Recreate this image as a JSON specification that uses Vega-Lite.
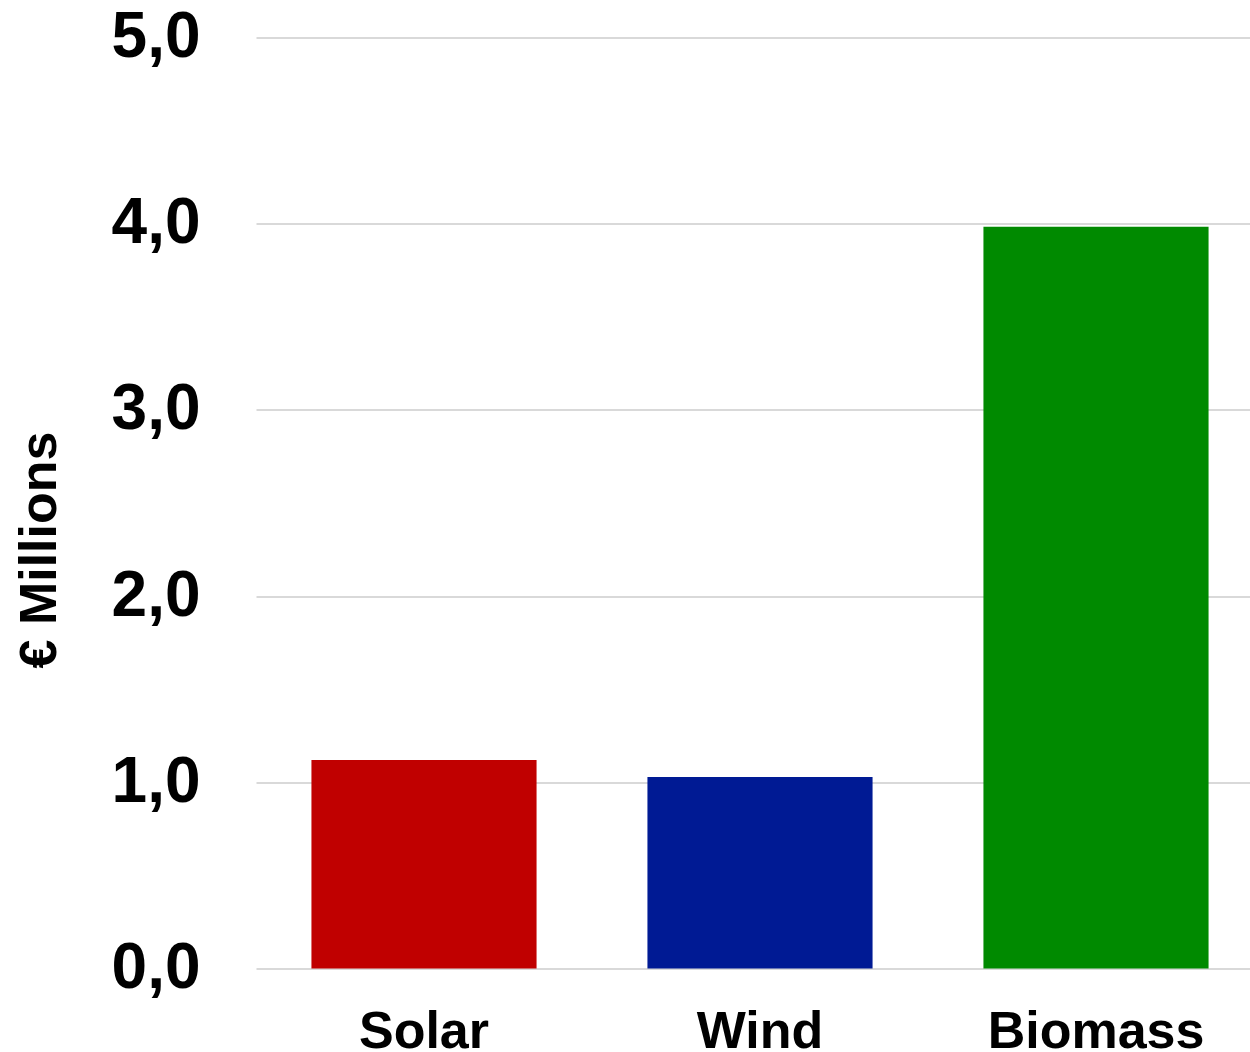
{
  "$schema": "https://vega.github.io/schema/vega-lite/v6.json",
  "autosize": "none",
  "padding": {"left": 256, "top": 37.5, "right": 0, "bottom": 83.5},
  "width": 1008,
  "height": 931,
  "background": "white",
  "config": {"view": {"stroke": null}, "font": "Liberation Sans"},
  "data": {"values": [
    {"source": "Solar", "value": 1.12, "color": "#C00000"},
    {"source": "Wind", "value": 1.028, "color": "#001A94"},
    {"source": "Biomass", "value": 3.984, "color": "#008A00"}
  ]},
  "mark": {"type": "bar"},
  "encoding": {
    "x": {
      "field": "source", "type": "nominal", "sort": null,
      "scale": {"paddingInner": 0.33, "paddingOuter": 0.165},
      "axis": {
        "title": null, "labelAngle": 0, "domain": false, "ticks": false,
        "labelFont": "Liberation Sans", "labelFontWeight": "bold", "labelFontSize": 52,
        "labelColor": "#000000", "labelPadding": 38, "labelBaseline": "top", "labelLimit": 500
      }
    },
    "y": {
      "field": "value", "type": "quantitative",
      "scale": {"domain": [0, 5], "nice": false},
      "axis": {
        "title": "€ Millions", "values": [0, 1, 2, 3, 4, 5], "format": ".1f",
        "labelExpr": "replace(datum.label, '.', ',')",
        "domain": false, "ticks": false, "grid": true, "gridColor": "#d9d9d9", "gridWidth": 2,
        "labelFont": "Liberation Sans", "labelFontWeight": "bold", "labelFontSize": 64,
        "labelColor": "#000000", "labelPadding": 56, "labelBaseline": "middle",
        "titleFont": "Liberation Sans", "titleFontWeight": "bold", "titleFontSize": 52,
        "titleColor": "#000000", "titleX": -217, "titleY": 512, "titleBaseline": "middle", "titleAlign": "center", "titleAngle": -90
      }
    },
    "color": {"field": "color", "type": "nominal", "scale": null, "legend": null}
  }
}
